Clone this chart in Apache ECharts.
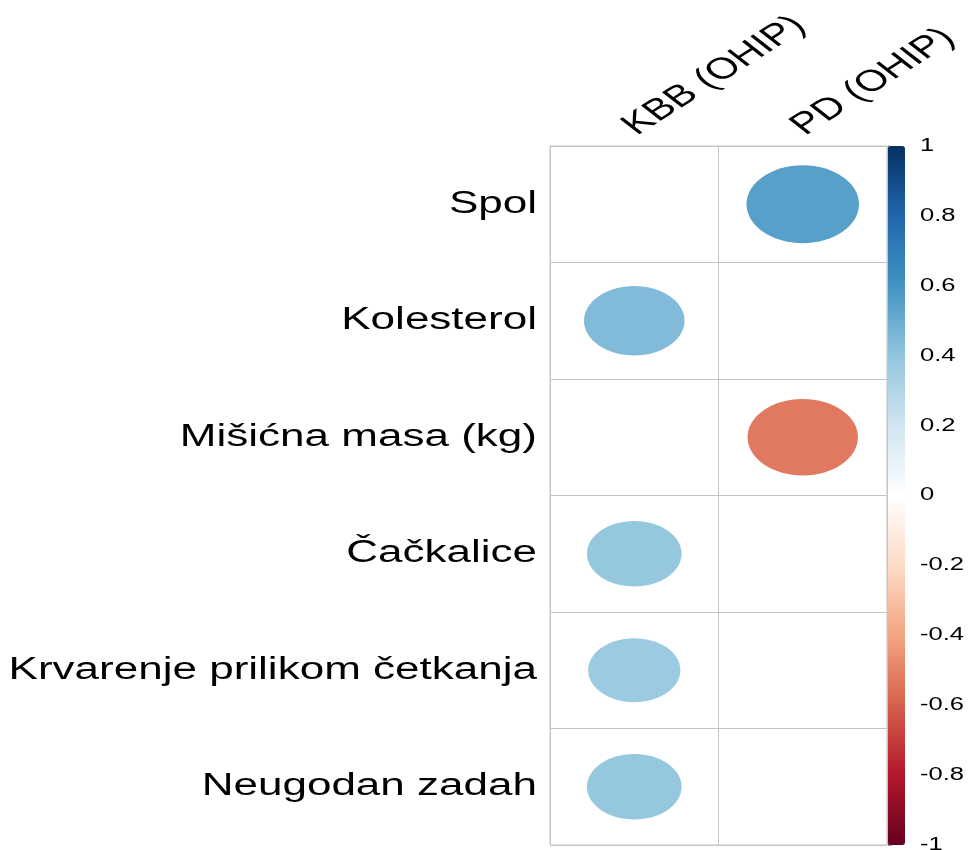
<!DOCTYPE html>
<html>
<head>
<meta charset="utf-8">
<script src="https://cdn.jsdelivr.net/npm/echarts@6/dist/echarts.min.js"></script>
<style>html,body{margin:0;padding:0;background:#fff}#c{width:968px;height:850px}</style>
</head>
<body>
<div id="c"></div>
<script>
const rowLabels = ['Spol', 'Kolesterol', 'Mišićna masa (kg)', 'Čačkalice', 'Krvarenje prilikom četkanja', 'Neugodan zadah'];
const colLabels = ['KBB (OHIP)', 'PD (OHIP)'];
const kbbValues = [null, 0.44, null, 0.39, 0.37, 0.39];
const pdValues = [0.55, null, -0.53, null, null, null];
const colorbarTicks = ['-1', '-0.8', '-0.6', '-0.4', '-0.2', '0', '0.2', '0.4', '0.6', '0.8', '1'];
const colorbarMin = -1, colorbarMax = 1, colorbarStep = 0.2;
const rdbu = ['#67001F', '#B2182B', '#D6604D', '#F4A582', '#FDDBC7', '#FFFFFF', '#D1E5F0', '#92C5DE', '#4393C3', '#2166AC', '#053061'];

const cells = [];
[kbbValues, pdValues].forEach((arr, j) => arr.forEach((v, i) => { if (v !== null) cells.push([j, i, v]); }));

const FONT = 'Liberation Sans, Arial, sans-serif';
const FS = 31;
const SX = 1.42;

const chart = echarts.init(document.getElementById('c'), null, {renderer: 'canvas'});
chart.setOption({
  animation: false,
  backgroundColor: '#fff',
  grid: [
    {left: 550, top: 146, width: 337, height: 699, show: true, borderColor: '#c4c4c4', borderWidth: 1},
    {left: 888, top: 146, width: 17, height: 699}
  ],
  xAxis: [
    {gridIndex: 0, type: 'category', data: colLabels, position: 'top', boundaryGap: true,
     axisLine: {show: false}, axisTick: {show: false}, axisLabel: {show: false},
     splitLine: {show: true, interval: 0, lineStyle: {color: '#c4c4c4', width: 1}}},
    {gridIndex: 1, type: 'value', min: 0, max: 1, show: false}
  ],
  yAxis: [
    {gridIndex: 0, type: 'category', data: rowLabels, inverse: true, boundaryGap: true,
     axisLine: {show: false}, axisTick: {show: false}, axisLabel: {show: false},
     splitLine: {show: true, interval: 0, lineStyle: {color: '#c4c4c4', width: 1}}},
    {gridIndex: 1, type: 'value', min: colorbarMin, max: colorbarMax, interval: colorbarStep, position: 'right',
     axisLine: {show: false}, splitLine: {show: false},
     axisTick: {show: true, length: 4, lineStyle: {color: '#999'}},
     axisLabel: {show: false}},
    {gridIndex: 1, type: 'value', min: colorbarMin, max: colorbarMax, position: 'left',
     axisLine: {show: true, lineStyle: {color: '#222', width: 1}}, axisTick: {show: false},
     axisLabel: {show: false}, splitLine: {show: false}}
  ],
  visualMap: {
    type: 'continuous', min: colorbarMin, max: colorbarMax, dimension: 2, seriesIndex: 0,
    orient: 'vertical', left: 888, top: 146, itemWidth: 17, itemHeight: 699, padding: 0,
    calculable: false, realtime: false, hoverLink: false,
    inRange: {color: rdbu}
  },
  series: [
    {
      type: 'custom', xAxisIndex: 0, yAxisIndex: 0, data: cells, clip: false,
      renderItem: function (params, api) {
        const c = api.coord([api.value(0), api.value(1)]);
        const s = api.size([1, 1]);
        const k = 0.9 * Math.sqrt(Math.abs(api.value(2))) / 2;
        return {type: 'ellipse', shape: {cx: c[0], cy: c[1], rx: s[0] * k, ry: s[1] * k},
                style: {fill: api.visual('color')}};
      }
    },
    {
      type: 'custom', xAxisIndex: 0, yAxisIndex: 0, clip: false, silent: true,
      data: rowLabels.map((n, i) => [0, i]),
      renderItem: function (params, api) {
        const c = api.coord([0, api.value(1)]);
        const s = api.size([1, 1]);
        return {type: 'group', x: c[0] - s[0] / 2 - 13, y: c[1], scaleX: SX,
          children: [{type: 'text', style: {x: 0, y: 0, text: rowLabels[params.dataIndex], fontSize: FS,
            fontFamily: FONT, fill: '#000', align: 'right', verticalAlign: 'middle'}}]};
      }
    },
    {
      type: 'custom', xAxisIndex: 0, yAxisIndex: 0, clip: false, silent: true,
      data: colLabels.map((n, j) => [j, 0]),
      renderItem: function (params, api) {
        const c = api.coord([api.value(0), 0]);
        const s = api.size([1, 1]);
        return {type: 'group', x: c[0] + 9, y: c[1] - s[1] / 2 - 5, scaleX: SX,
          children: [{type: 'text', rotation: 42 * Math.PI / 180, style: {x: 0, y: 0, text: colLabels[params.dataIndex],
            fontSize: 30, fontFamily: FONT, fill: '#000', align: 'left', verticalAlign: 'bottom'}}]};
      }
    },
    {
      type: 'custom', xAxisIndex: 1, yAxisIndex: 1, clip: false, silent: true,
      data: colorbarTicks.map(t => [1, parseFloat(t)]),
      renderItem: function (params, api) {
        const c = api.coord([1, api.value(1)]);
        return {type: 'group', x: c[0] + 15, y: c[1], scaleX: SX,
          children: [{type: 'text', style: {x: 0, y: 0, text: colorbarTicks[params.dataIndex], fontSize: 18,
            fontFamily: FONT, fill: '#000', align: 'left', verticalAlign: 'middle'}}]};
      }
    }
  ]
});
</script>
</body>
</html>
